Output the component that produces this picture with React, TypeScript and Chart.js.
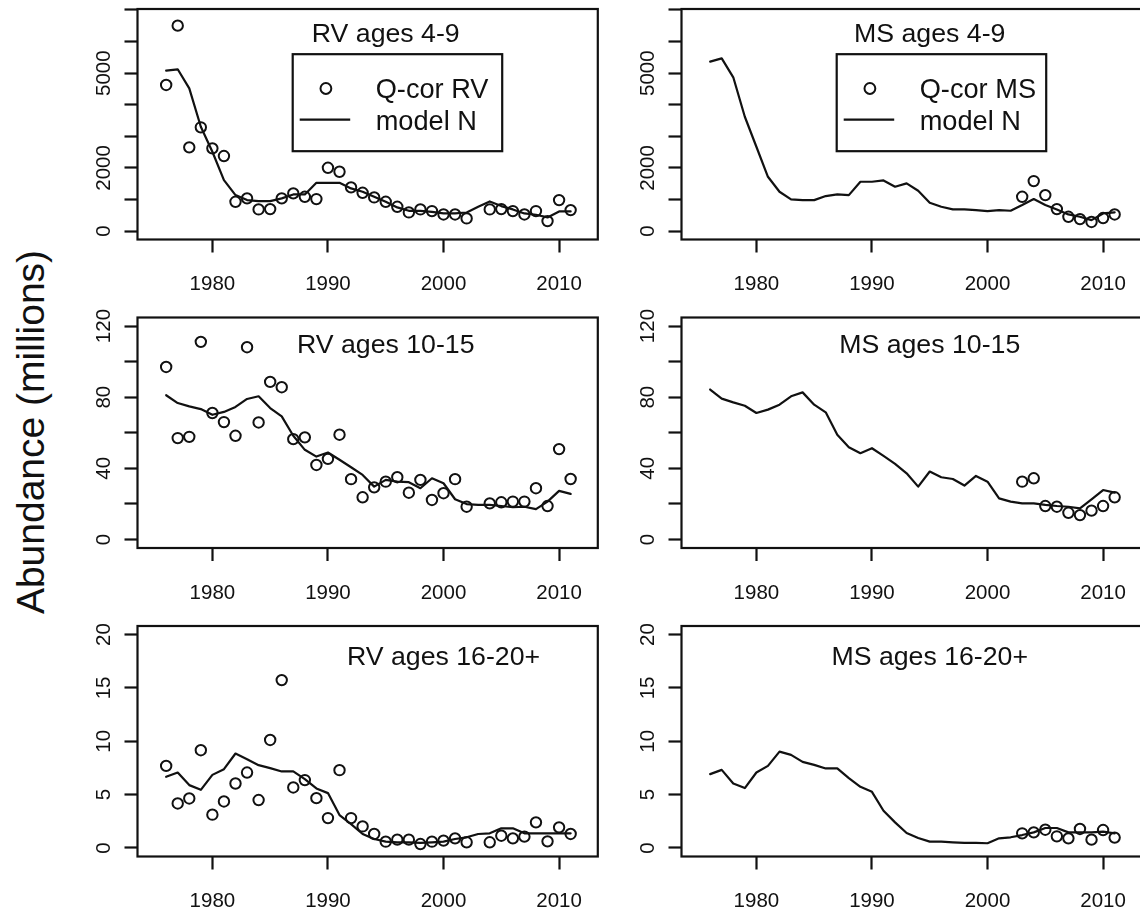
import React, { useEffect, useRef } from "react";
import { Chart, registerables } from "chart.js";

Chart.register(...registerables);

const FONT = "'Liberation Sans', Arial, Helvetica, sans-serif";
const INK = "#111111";

// ---- data -------------------------------------------------------------

// years covered by the population model
const modelYears = [
  1976, 1977, 1978, 1979, 1980, 1981, 1982, 1983, 1984, 1985, 1986, 1987,
  1988, 1989, 1990, 1991, 1992, 1993, 1994, 1995, 1996, 1997, 1998, 1999,
  2000, 2001, 2002, 2003, 2004, 2005, 2006, 2007, 2008, 2009, 2010, 2011,
];
// RV survey years (no survey index in 2003)
const rvYears = [
  1976, 1977, 1978, 1979, 1980, 1981, 1982, 1983, 1984, 1985, 1986, 1987,
  1988, 1989, 1990, 1991, 1992, 1993, 1994, 1995, 1996, 1997, 1998, 1999,
  2000, 2001, 2002, 2004, 2005, 2006, 2007, 2008, 2009, 2010, 2011,
];
// MS survey years
const msYears = [2003, 2004, 2005, 2006, 2007, 2008, 2009, 2010, 2011];

// ages 4-9
const rv49Obs = [
  4625, 6503, 2651, 3285, 2619, 2376, 928, 1036, 687, 697, 1036, 1194,
  1087, 1014, 2005, 1879, 1384, 1213, 1067, 928, 770, 592, 687, 634,
  528, 528, 402, 687, 697, 634, 528, 634, 317, 982, 665,
];
const rv49Model = [
  5078, 5122, 4520, 3304, 2512, 1615, 1140, 982, 950, 950, 1036, 1160,
  1160, 1530, 1530, 1530, 1352, 1245, 1087, 928, 750, 643, 643, 612,
  560, 560, 590, 770, 939, 792, 687, 560, 518, 433, 623, 623,
];
const ms49Obs = [1087, 1584, 1140, 697, 454, 380, 290, 415, 528];
const ms49Model = [
  5363, 5469, 4868, 3620, 2670, 1720, 1245, 1004, 982, 982, 1109, 1162,
  1140, 1562, 1562, 1605, 1404, 1510, 1277, 897, 770, 687, 687, 665,
  634, 665, 645, 824, 1014, 824, 687, 528, 454, 348, 560, 592,
];

// ages 10-15
const rv1015Obs = [
  97.0, 57.0, 57.7, 111.1, 71.1, 66.0, 58.3, 108.1, 65.8, 88.6, 85.6, 56.4,
  57.4, 41.9, 45.3, 58.9, 33.9, 23.7, 29.3, 32.5, 35.0, 26.3, 33.5, 22.2,
  26.0, 33.9, 18.4, 20.3, 20.9, 21.3, 21.3, 28.8, 18.8, 50.8, 34.0,
];
const rv1015Model = [
  81.1, 76.7, 74.8, 73.3, 70.1, 71.7, 74.5, 79.0, 80.5, 73.9, 69.2, 58.3,
  50.4, 46.6, 48.9, 44.8, 40.6, 36.3, 29.7, 33.5, 32.5, 32.2, 28.8, 34.4,
  31.6, 22.6, 19.9, 19.4, 19.4, 18.8, 18.1, 18.4, 17.1, 21.3, 27.3, 25.6,
];
const ms1015Obs = [32.5, 34.4, 18.8, 18.4, 15.0, 13.7, 16.2, 18.8, 23.7];
const ms1015Model = [
  84.3, 79.2, 77.1, 75.2, 71.1, 73.0, 75.8, 80.5, 82.7, 75.8, 71.5, 58.9,
  51.9, 48.5, 51.3, 47.0, 42.5, 37.2, 29.7, 38.2, 35.0, 34.0, 30.3, 35.7,
  32.5, 23.1, 21.3, 20.3, 20.3, 19.4, 18.8, 18.4, 17.5, 22.6, 27.8, 26.3,
];

// ages 16-20+
const rv1620Obs = [
  7.69, 4.17, 4.64, 9.16, 3.12, 4.36, 6.04, 7.07, 4.49, 10.12, 15.73, 5.67,
  6.36, 4.67, 2.8, 7.29, 2.8, 2.02, 1.31, 0.59, 0.78, 0.78, 0.37, 0.59,
  0.69, 0.9, 0.53, 0.53, 1.15, 0.9, 1.06, 2.4, 0.62, 1.93, 1.31,
];
const rv1620Model = [
  6.67, 7.07, 5.89, 5.45, 6.85, 7.38, 8.85, 8.32, 7.76, 7.48, 7.17, 7.17,
  6.45, 5.58, 5.14, 3.08, 2.24, 1.31, 0.84, 0.59, 0.53, 0.53, 0.47, 0.53,
  0.59, 0.84, 1.0, 1.31, 1.37, 1.84, 1.84, 1.37, 1.37, 1.37, 1.37, 1.37,
];
const ms1620Obs = [1.37, 1.46, 1.71, 1.09, 0.9, 1.78, 0.78, 1.68, 0.97];
const ms1620Model = [
  6.92, 7.32, 6.04, 5.61, 7.07, 7.69, 9.03, 8.72, 8.07, 7.79, 7.45, 7.45,
  6.54, 5.73, 5.26, 3.49, 2.4, 1.4, 0.93, 0.59, 0.59, 0.53, 0.47, 0.47,
  0.44, 0.9, 1.0, 1.21, 1.46, 1.87, 1.87, 1.46, 1.46, 1.46, 1.53, 1.37,
];

// axis ticks and labels
const xTicks = [1980, 1990, 2000, 2010];
const yTicks49 = [0, 1000, 2000, 3000, 4000, 5000, 6000, 7000];
const yLabels49 = [0, 2000, 5000];
const yTicks1015 = [0, 20, 40, 60, 80, 100, 120];
const yLabels1015 = [0, 40, 80, 120];
const yTicks1620 = [0, 5, 10, 15, 20];
const yLabels1620 = [0, 5, 10, 15, 20];

const rvLegend = ["Q-cor RV", "model N"];
const msLegend = ["Q-cor MS", "model N"];

// ---- layout -----------------------------------------------------------

const X_MIN = 1973.52;
const X_MAX = 2013.35;
const COL_LEFT = [60, 604];
const ROW_TOP = [0, 308, 617];
const BOX_TOP = [9, 317.5, 626];
const CANVAS_W = 545;
const CANVAS_H = 309;
const BOX_H = 230.5;
const Y_AXIS_W = 77.5;
const PAD_RIGHT = 4;

const TICK_SIZE = 20.5;
const TITLE_SIZE = 26.7;
const LEGEND_SIZE = 27.2;
const CAP = 0.358; // cap-centre offset above the baseline, in em

type PanelSpec = {
  key: string;
  row: number;
  col: number;
  title: string;
  titleX: number;
  titleY: number;
  yMin: number;
  yMax: number;
  yTicks: number[];
  yLabels: number[];
  obsYears: number[];
  obs: number[];
  model: number[];
  legend: string[] | null;
  legendX: number;
  legendY: number;
};

const panels: PanelSpec[] = [
  { key: "rv49", row: 0, col: 0, title: "RV ages 4-9", titleX: 1995, titleY: 6300,
    yMin: -265, yMax: 7030, yTicks: yTicks49, yLabels: yLabels49,
    obsYears: rvYears, obs: rv49Obs, model: rv49Model,
    legend: rvLegend, legendX: 1986.95, legendY: 5600 },
  { key: "ms49", row: 0, col: 1, title: "MS ages 4-9", titleX: 1995, titleY: 6300,
    yMin: -265, yMax: 7030, yTicks: yTicks49, yLabels: yLabels49,
    obsYears: msYears, obs: ms49Obs, model: ms49Model,
    legend: msLegend, legendX: 1986.95, legendY: 5600 },
  { key: "rv1015", row: 1, col: 0, title: "RV ages 10-15", titleX: 1995, titleY: 110,
    yMin: -4.8, yMax: 124.8, yTicks: yTicks1015, yLabels: yLabels1015,
    obsYears: rvYears, obs: rv1015Obs, model: rv1015Model,
    legend: null, legendX: 0, legendY: 0 },
  { key: "ms1015", row: 1, col: 1, title: "MS ages 10-15", titleX: 1995, titleY: 110,
    yMin: -4.8, yMax: 124.8, yTicks: yTicks1015, yLabels: yLabels1015,
    obsYears: msYears, obs: ms1015Obs, model: ms1015Model,
    legend: null, legendX: 0, legendY: 0 },
  { key: "rv1620", row: 2, col: 0, title: "RV ages 16-20+", titleX: 2000, titleY: 18,
    yMin: -0.8, yMax: 20.8, yTicks: yTicks1620, yLabels: yLabels1620,
    obsYears: rvYears, obs: rv1620Obs, model: rv1620Model,
    legend: null, legendX: 0, legendY: 0 },
  { key: "ms1620", row: 2, col: 1, title: "MS ages 16-20+", titleX: 1995, titleY: 18,
    yMin: -0.8, yMax: 20.8, yTicks: yTicks1620, yLabels: yLabels1620,
    obsYears: msYears, obs: ms1620Obs, model: ms1620Model,
    legend: null, legendX: 0, legendY: 0 },
];

function Panel({ spec }: { spec: PanelSpec }) {
  const ref = useRef<HTMLCanvasElement>(null);
  const padTop = BOX_TOP[spec.row] - ROW_TOP[spec.row];
  const xAxisH = CANVAS_H - padTop - BOX_H;

  useEffect(() => {
    const canvas = ref.current;
    if (!canvas) return;

    // frame, tick labels, panel title and legend
    const decor = {
      id: "panelDecor",
      afterDraw(chart: any) {
        const { ctx, chartArea: a, scales } = chart;
        const xs = scales.x;
        const ys = scales.y;
        ctx.save();
        ctx.strokeStyle = INK;
        ctx.fillStyle = INK;
        ctx.lineWidth = 2.2;
        ctx.strokeRect(a.left, a.top, a.right - a.left, a.bottom - a.top);

        ctx.font = `${TICK_SIZE}px ${FONT}`;
        ctx.textAlign = "center";
        ctx.textBaseline = "alphabetic";
        for (const v of xTicks) {
          ctx.fillText(String(v), xs.getPixelForValue(v), a.bottom + 43.4 + CAP * TICK_SIZE);
        }
        for (const v of spec.yLabels) {
          ctx.save();
          ctx.translate(a.left - 35, ys.getPixelForValue(v));
          ctx.rotate(-Math.PI / 2);
          ctx.fillText(String(v), 0, CAP * TICK_SIZE);
          ctx.restore();
        }

        ctx.font = `${TITLE_SIZE}px ${FONT}`;
        ctx.fillText(
          spec.title,
          xs.getPixelForValue(spec.titleX),
          ys.getPixelForValue(spec.titleY) + CAP * TITLE_SIZE
        );

        if (spec.legend) {
          const bx = xs.getPixelForValue(spec.legendX);
          const by = ys.getPixelForValue(spec.legendY);
          ctx.lineWidth = 2.2;
          ctx.strokeRect(bx, by, 209.5, 97);
          ctx.lineWidth = 2;
          ctx.beginPath();
          ctx.arc(bx + 33.2, by + 34.3, 5.4, 0, Math.PI * 2);
          ctx.stroke();
          ctx.lineWidth = 2.2;
          ctx.beginPath();
          ctx.moveTo(bx + 7, by + 65.5);
          ctx.lineTo(bx + 57.5, by + 65.5);
          ctx.stroke();
          ctx.font = `${LEGEND_SIZE}px ${FONT}`;
          ctx.textAlign = "left";
          ctx.fillText(spec.legend[0], bx + 83, by + 43.5);
          ctx.fillText(spec.legend[1], bx + 83, by + 75.5);
        }
        ctx.restore();
      },
    };

    const tickGrid = {
      display: true,
      drawOnChartArea: false,
      drawTicks: true,
      tickLength: 13,
      tickWidth: 2.2,
      tickColor: INK,
      color: INK,
    };

    const chart = new Chart(canvas, {
      type: "scatter",
      data: {
        datasets: [
          {
            label: spec.legend ? spec.legend[0] : "Q-cor",
            data: spec.obsYears.map((x, i) => ({ x, y: spec.obs[i] })),
            showLine: false,
            pointStyle: "circle",
            pointRadius: 5.2,
            pointBorderWidth: 2,
            pointBorderColor: INK,
            pointBackgroundColor: "rgba(0,0,0,0)",
            order: 1,
          },
          {
            label: "model N",
            data: modelYears.map((x, i) => ({ x, y: spec.model[i] })),
            showLine: true,
            borderColor: INK,
            borderWidth: 2.2,
            borderJoinStyle: "round",
            borderCapStyle: "round",
            pointRadius: 0,
            tension: 0,
            fill: false,
            order: 2,
          },
        ],
      } as any,
      options: {
        responsive: false,
        animation: false,
        events: [],
        devicePixelRatio: 1,
        layout: { padding: { top: padTop, left: 0, right: PAD_RIGHT, bottom: 0 } },
        plugins: {
          legend: { display: false },
          tooltip: { enabled: false },
          title: { display: false },
        },
        scales: {
          x: {
            type: "linear",
            position: "bottom",
            min: X_MIN,
            max: X_MAX,
            bounds: "data",
            ticks: { display: false },
            grid: tickGrid,
            border: { display: false },
            afterBuildTicks: (s: any) => {
              s.ticks = xTicks.map((v) => ({ value: v }));
            },
            afterFit: (s: any) => {
              s.height = xAxisH;
            },
          },
          y: {
            type: "linear",
            position: "left",
            min: spec.yMin,
            max: spec.yMax,
            bounds: "data",
            ticks: { display: false },
            grid: tickGrid,
            border: { display: false },
            afterBuildTicks: (s: any) => {
              s.ticks = spec.yTicks.map((v) => ({ value: v }));
            },
            afterFit: (s: any) => {
              s.width = Y_AXIS_W;
            },
          },
        },
      } as any,
      plugins: [decor],
    });
    return () => chart.destroy();
  }, [spec]);

  return (
    <canvas
      ref={ref}
      width={CANVAS_W}
      height={CANVAS_H}
      style={{
        position: "absolute",
        left: COL_LEFT[spec.col],
        top: ROW_TOP[spec.row],
        width: CANVAS_W,
        height: CANVAS_H,
      }}
    />
  );
}

export default function App() {
  return (
    <div
      style={{
        position: "absolute",
        left: 0,
        top: 0,
        width: 1140,
        height: 915,
        overflow: "hidden",
        background: "#ffffff",
      }}
    >
      <div
        style={{
          position: "absolute",
          left: 30,
          top: 431.5,
          transform: "translate(-50%, -50%) rotate(-90deg)",
          fontFamily: FONT,
          fontSize: 39,
          lineHeight: 1,
          whiteSpace: "nowrap",
          color: INK,
        }}
      >
        Abundance (millions)
      </div>
      {panels.map((p) => (
        <Panel key={p.key} spec={p} />
      ))}
    </div>
  );
}
